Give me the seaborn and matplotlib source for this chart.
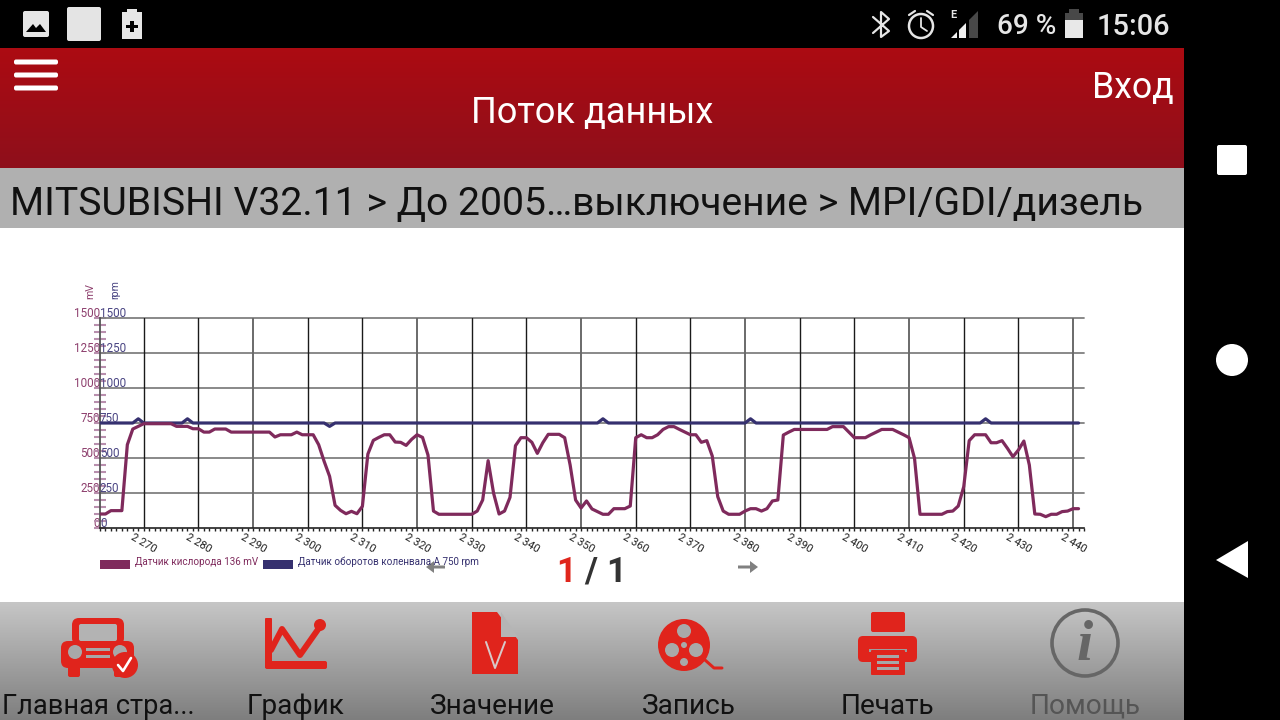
import numpy as np
import pandas as pd
import matplotlib
matplotlib.use("Agg")
import matplotlib.pyplot as plt
import seaborn as sns
from matplotlib.patches import Rectangle, Circle, Polygon, FancyBboxPatch, Patch
from matplotlib.transforms import ScaledTranslation
from matplotlib.ticker import MultipleLocator

# ---------- data ----------
start_sample = 2262
o2_mv = [100,100,124,124,124,595,707,726,745,745,745,745,745,745,726,726,726,709,709,685,685,707,707,707,685,
         685,685,685,685,685,685,685,650,666,666,666,685,666,666,666,595,476,369,162,126,102,119,102,155,528,
         626,647,666,666,614,612,590,633,666,647,521,121,98,98,98,98,98,98,98,121,200,481,248,100,121,
         219,588,645,645,612,533,609,669,669,669,645,450,200,143,193,136,117,98,98,138,138,138,157,645,666,
         645,645,666,704,724,724,704,685,666,666,612,624,514,224,121,98,98,98,121,138,138,121,138,193,200,
         664,685,704,704,704,704,704,704,704,724,724,724,685,645,645,645,666,685,704,704,704,685,666,645,497,
         98,98,98,98,98,117,121,157,295,624,666,666,666,609,609,624,569,509,557,621,450,100,98,81,98,
         98,117,121,138,138]
rpm_base = 750
rpm_events = {2269: 780, 2278: 780, 2304: 726, 2354: 780, 2381: 780, 2424: 780}
samples = list(range(start_sample, start_sample + len(o2_mv)))
rpm = [rpm_events.get(s, rpm_base) for s in samples]
y_ticks = [0, 250, 500, 750, 1000, 1250, 1500]
x_ticks = list(range(2270, 2441, 10))
x_tick_labels = [f"{v//1000} {v%1000:03d}" for v in x_ticks]
legend_labels = ["Датчик кислорода 136 mV", "Датчик оборотов коленвала А 750 rpm"]
bottom_labels = ["Главная стра...", "График", "Значение", "Запись", "Печать", "Помощь"]
crumb = "MITSUBISHI V32.11 > До 2005…выключение > MPI/GDI/дизель"

MAUVE = "#7f2a5c"
NAVY = "#35306f"
RED = "#e0241c"

sns.set_theme(style="white")
plt.rcParams["font.family"] = ["Roboto", "DejaVu Sans"]

W, H = 1280, 720
fig = plt.figure(figsize=(W / 100, H / 100), dpi=100, facecolor="white")

# ---------- screen chrome, in pixel coordinates ----------
bg = fig.add_axes([0, 0, 1, 1], zorder=0)
bg.set_axis_off()


def grad(x0, x1, y0, y1, c0, c1):
    c0 = np.array(matplotlib.colors.to_rgb(c0))
    c1 = np.array(matplotlib.colors.to_rgb(c1))
    t = np.linspace(0, 1, 128)[:, None, None]
    img = c0[None, None, :] * (1 - t) + c1[None, None, :] * t
    bg.imshow(img, extent=[x0, x1, y1, y0], aspect="auto", interpolation="bilinear", zorder=1)


def rect(x0, y0, x1, y1, c, z=2, r=0):
    if r:
        bg.add_patch(FancyBboxPatch((x0 + r, y0 + r), x1 - x0 - 2 * r, y1 - y0 - 2 * r,
                                    boxstyle=f"round,pad={r}", fc=c, ec="none", zorder=z))
    else:
        bg.add_patch(Rectangle((x0, y0), x1 - x0, y1 - y0, fc=c, ec="none", zorder=z))


def txt(x, y, s, size, c, ha="left", **kw):
    return bg.text(x, y + 2, s, fontsize=size * 0.72, color=c, ha=ha, va="center", zorder=5, **kw)


def stroke(pts, c, lw, z=4):
    xs, ys = zip(*pts)
    bg.plot(xs, ys, color=c, lw=lw * 0.72, solid_capstyle="round", solid_joinstyle="round", zorder=z)


grad(0, 1184, 48, 168, "#ac0b12", "#8e0f1b")
rect(0, 0, 1280, 48, "black")
rect(1184, 0, 1280, 720, "black")
rect(0, 168, 1184, 228, "#b0b0b0")
rect(0, 228, 1184, 602, "white", z=0.5)
grad(0, 1184, 602, 720, "#c6c6c6", "#7e7e7e")

# status bar
rect(23, 11, 49, 37, "#e6e6e6", r=2)
bg.add_patch(Polygon([(26, 32), (33, 24), (36, 28), (40, 24), (46, 32)], fc="black", ec="none", zorder=4))
rect(67, 7, 101, 41, "#e4e4e4", r=2)
rect(122, 12, 142, 39, "#e6e6e6")
rect(127, 9, 137, 13, "#e6e6e6")
rect(130, 21, 134, 32, "black", z=4)
rect(126, 25, 138, 28, "black", z=4)
stroke([(873, 17), (889, 31), (881, 37), (881, 12), (889, 19), (873, 33)], "#e6e6e6", 2.2)
bg.add_patch(Circle((921, 26), 12, fc="none", ec="#e6e6e6", lw=1.8, zorder=4))
stroke([(921, 18), (921, 27), (927, 31)], "#e6e6e6", 1.8)
stroke([(909, 15), (915, 11)], "#e6e6e6", 2.2)
stroke([(927, 11), (933, 15)], "#e6e6e6", 2.2)
bg.add_patch(Polygon([(951, 38), (957, 32), (957, 38)], fc="#f0f0f0", ec="none", zorder=4))
bg.add_patch(Polygon([(959, 30), (966, 23), (966, 38), (959, 38)], fc="#f0f0f0", ec="none", zorder=4))
bg.add_patch(Polygon([(969, 20), (978, 11), (978, 38), (969, 38)], fc="#484848", ec="none", zorder=4))
txt(950, 13, "E", 11, "#e6e6e6", weight="bold")
txt(997, 25, "69 %", 28, "#e6e6e6", weight="medium")
rect(1065, 13, 1083, 38, "#e8e8e8")
rect(1065, 13, 1083, 20, "#484848", z=3)
rect(1069, 9, 1079, 13, "#484848", z=3)
txt(1097, 25, "15:06", 29, "#e6e6e6", weight="medium")

# header
for y in (62, 75, 88):
    rect(14, y - 2.5, 58, y + 2.5, "white", r=2)
txt(592.5, 111, "Поток данных", 36.2, "white", ha="center")
txt(1133, 86, "Вход", 35.6, "white", ha="center")
txt(10, 202, crumb, 39.15, "#111111")

# android nav
rect(1217, 145, 1247, 175, "white", r=2)
bg.add_patch(Circle((1232, 360), 16, fc="white", ec="none", zorder=3))
bg.add_patch(Polygon([(1248, 541), (1248, 578), (1216, 560)], fc="white", ec="none", zorder=3))

# bottom icons
rect(72, 618, 124, 645, RED, z=3, r=7)
rect(79, 624, 117, 641, "#b3b3b3", z=3.2, r=2)
rect(61, 641, 134, 668, RED, z=3, r=7)
rect(68, 664, 80, 677, RED, z=3, r=2)
rect(114, 664, 126, 677, RED, z=3, r=2)
bg.add_patch(Circle((75, 652), 7, fc="#a8a8a8", ec="none", zorder=4))
bg.add_patch(Circle((120, 652), 7, fc="#a8a8a8", ec="none", zorder=4))
rect(86, 648, 110, 651, "#a8a8a8", z=4)
rect(86, 655, 110, 658, "#a8a8a8", z=4)
bg.add_patch(Circle((125, 665), 13, fc=RED, ec="none", zorder=4.5))
stroke([(118, 665), (123, 671), (131, 658)], "white", 2.6, z=4.8)

rect(265, 618, 272, 668, RED, z=3, r=1)
rect(265, 661, 327, 669, RED, z=3, r=2)
stroke([(271, 650), (282, 629), (300, 655), (319, 628)], RED, 6)
bg.add_patch(Circle((320, 625), 6, fc=RED, ec="none", zorder=4))

bg.add_patch(Polygon([(472, 612), (497, 612), (518, 640), (518, 674), (472, 674)], fc=RED, ec="none", zorder=3))
bg.add_patch(Polygon([(501, 612), (518, 637), (501, 637)], fc="#b5b5b5", ec="none", zorder=4))
stroke([(486, 642), (495, 668), (505, 642)], "#d8c8c8", 2, z=4.5)

bg.add_patch(Circle((684, 645), 26, fc=RED, ec="none", zorder=3))
for dx, dy, r in [(0, -14, 7), (-12, 5, 7), (12, 5, 7), (0, 0, 3), (0, 17, 4)]:
    bg.add_patch(Circle((684 + dx, 645 + dy), r, fc="#a9a9a9", ec="none", zorder=4))
stroke([(705, 660), (714, 668), (722, 668)], RED, 3)

rect(871, 612, 905, 632, RED, z=3, r=2)
rect(858, 636, 917, 662, RED, z=3, r=5)
rect(869, 649, 907, 652, "#9d9d9d", z=3.5)
rect(871, 650, 905, 675, RED, z=4, r=1)
for y in (656, 662, 668):
    rect(877, y - 1.5, 899, y + 1.5, "#a7a7a7", z=4.5)

bg.add_patch(Circle((1085, 643), 33, fc="none", ec="#666666", lw=2.6, zorder=3))
bg.text(1085, 646, "i", fontsize=42, family="Liberation Serif", style="italic", weight="bold",
        color="#666666", ha="center", va="center", zorder=4)

for (cx, s, sz) in zip([98.5, 295.5, 492.5, 689, 887, 1085], bottom_labels, [27.3, 28, 28, 28, 28, 28]):
    txt(cx, 704, s, sz, "#555555" if s == "Помощь" else "#111111", ha="center")

# pager
bg.text(556, 572, "1", fontsize=25, weight="bold", color="#e0261c", va="center", zorder=5)
bg.text(584, 572, "/", fontsize=25, weight="bold", color="#333333", va="center", zorder=5)
bg.text(606, 572, "1", fontsize=25, weight="bold", color="#333333", va="center", zorder=5)
for x0, x1 in [(445, 426), (738, 758)]:
    d = 1 if x1 > x0 else -1
    bg.add_patch(Polygon([(x0, 565.5), (x1 - 8 * d, 565.5), (x1 - 8 * d, 561), (x1, 567), (x1 - 8 * d, 573),
                          (x1 - 8 * d, 568.5), (x0, 568.5)], fc="#808080", ec="none", zorder=6))

bg.set_xlim(0, W)
bg.set_ylim(H, 0)

# ---------- chart ----------
left, right, top, bottom = 100, 1084, 318, 528
ax = fig.add_axes([left / W, 1 - bottom / H, (right - left) / W, (bottom - top) / H], zorder=2)
ax.patch.set_visible(False)

df = pd.DataFrame({"sample": samples, "o2": o2_mv, "rpm": rpm})
ax.set_xlim(2262, 2442)
ax.set_ylim(0, 1500)
sns.lineplot(data=df, x="sample", y="rpm", ax=ax, color=NAVY, lw=2.3, errorbar=None, zorder=4)
sns.lineplot(data=df, x="sample", y="o2", ax=ax, color=MAUVE, lw=2.3, errorbar=None, zorder=5)
ax.set_xlabel("")
ax.set_ylabel("")
ax.set_xlim(2262, 2442)
ax.set_ylim(0, 1500)

for s in ("top", "right"):
    ax.spines[s].set_visible(False)
ax.spines["left"].set_color("#555555")
ax.spines["left"].set_linewidth(1.3)
ax.spines["bottom"].set_color("#222222")
ax.spines["bottom"].set_linewidth(1.2)

gray_lines = (2290, 2320, 2350, 2380, 2410, 2440)
for v in y_ticks[1:]:
    ax.axhline(v, color="#808080", lw=1.3, zorder=1, clip_on=False)
for v in x_ticks:
    ax.axvline(v, color="#6a6a6a" if v in gray_lines else "#1a1a1a",
               lw=1.4 if v in gray_lines else 1.0, zorder=1)

tick_len = 8.6
ax.set_yticks(y_ticks)
ax.set_yticklabels([str(v) for v in y_ticks], fontsize=8.4, color="#8d3f6d")
ax.yaxis.set_minor_locator(MultipleLocator(50))
ax.tick_params(axis="y", which="both", direction="inout", left=True, length=tick_len, width=1.5,
               color="#b98fae", pad=-tick_len / 2)
shift = ScaledTranslation(0, 6 / 100, fig.dpi_scale_trans)
for lab in ax.get_yticklabels():
    lab.set_transform(lab.get_transform() + shift)

ax.set_xticks(x_ticks)
ax.set_xticklabels(x_tick_labels, fontsize=8, color="#222222", rotation=-30, ha="center", va="top",
                   rotation_mode="default")
ax.xaxis.set_minor_locator(MultipleLocator(1))
ax.tick_params(axis="x", which="both", direction="out", bottom=True, length=1.8, width=1, color="#222222", pad=1)

ax2 = ax.twinx()
ax2.set_ylim(0, 1500)
ax2.patch.set_visible(False)
for s in ax2.spines.values():
    s.set_visible(False)
ax2.yaxis.tick_left()
ax2.set_yticks(y_ticks)
ax2.set_yticklabels([str(v) for v in y_ticks], fontsize=8.4, color="#4a4583", ha="left")
ax2.tick_params(axis="y", which="both", length=0, pad=0)
ax2.grid(False)
for lab in ax2.get_yticklabels():
    lab.set_transform(lab.get_transform() + shift)
    lab.set_horizontalalignment("left")

fs = 7.15
handles = [Patch(fc=MAUVE, ec="none", label=legend_labels[0]), Patch(fc=NAVY, ec="none", label=legend_labels[1])]
leg = ax.legend(handles=handles, loc="upper left", ncol=2, frameon=False, fontsize=fs,
                bbox_to_anchor=(0, (bottom - 556.5) / (bottom - top)), borderaxespad=0, borderpad=0,
                handlelength=(30 * 0.72) / fs, handleheight=(10 * 0.72) / fs,
                handletextpad=(5 * 0.72) / fs, columnspacing=(5 * 0.72) / fs, labelcolor=[MAUVE, NAVY])
for p in leg.get_patches():
    p.set_y(p.get_y() - 2.2)

bg.text(90, 299, "mV", fontsize=7.6, color="#8d3f6d", rotation=90, ha="center", va="bottom", zorder=5)
bg.text(115, 299, "rpm", fontsize=7.6, color="#4a4583", rotation=90, ha="center", va="bottom", zorder=5)

fig.savefig("out.png", dpi=100, facecolor="white")
